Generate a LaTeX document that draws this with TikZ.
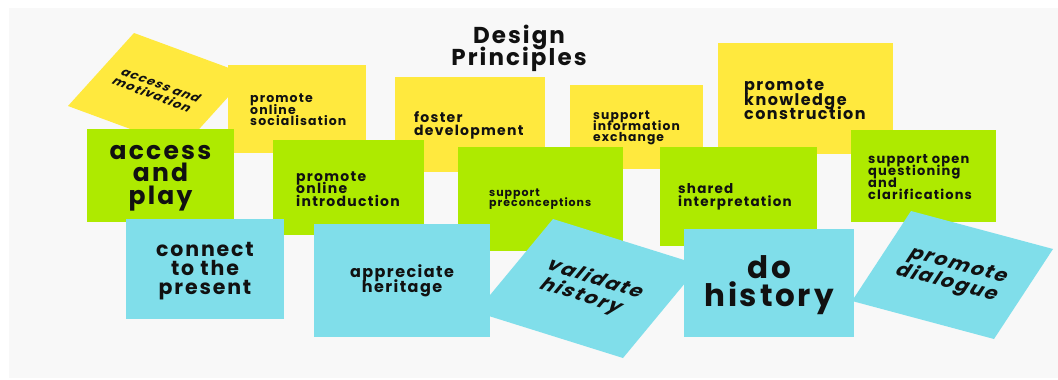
\documentclass[tikz,border=0pt]{standalone}
\usepackage{fontspec}
\setmainfont{Poppins}[LetterSpace=9]
\definecolor{bgc}{HTML}{F8F8F8}
\definecolor{ynote}{HTML}{FFE93E}
\definecolor{gnote}{HTML}{AEEA00}
\definecolor{bnote}{HTML}{80DEEA}
\definecolor{ink}{HTML}{111111}
\newcommand{\fsz}[2]{\fontsize{#1}{#2}\selectfont\lineskiplimit=-100pt\lineskip=0pt\bfseries}
\tikzset{
  card/.style={inner sep=0pt, outer sep=0pt, anchor=north west},
  ycard/.style={card, fill=ynote},
  gcard/.style={card, fill=gnote},
  bcard/.style={card, fill=bnote},
  ltext/.style={anchor=west, align=left, inner sep=0pt, text=ink},
  ctext/.style={anchor=center, align=center, inner sep=0pt, text=ink},
}
\newcommand{\cardat}[6]{% style, name, x1, y1, x2, y2
  \node[#1, minimum width={(#5-#3)*1pt}, minimum height={(#6-#4)*1pt}] (#2) at (#3,#4) {};}
\begin{document}
\begin{tikzpicture}[x=1pt, y=-1pt]
\useasboundingbox (0,0) rectangle (1058,380);
\fill[white] (0,0) rectangle (1058,380);
\fill[bgc] (9,8) rectangle (1058,378);

% title
\node[ctext, font={\fsz{23}{22}}] (title) at (519,48) {Design\\Principles};

% ---------- yellow ----------
\coordinate (y1t) at (134,33);
\coordinate (y1r) at (248,75);
\coordinate (y1b) at (182,148);
\coordinate (y1l) at (68,106);
\fill[ynote] (y1t) -- (y1r) -- (y1b) -- (y1l) -- cycle;
\begin{scope}[shift={(157,90)}, cm={0.938,-0.346,0.671,0.742,(0,0)}]
  \node[ctext, align=left, transform shape, font={\fsz{12.5}{13}}] (y1txt) at (0,0) {access and\\motivation};
\end{scope}

\cardat{ycard}{y2}{228}{65}{366}{153}
\node[ltext, font={\fsz{12.5}{11.5}}] (y2txt) at (250,110) {promote\\online\\socialisation};

\cardat{ycard}{y3}{395}{77}{545}{172}
\node[ltext, font={\fsz{14}{13}}] (y3txt) at (414,125.5) {foster\\development};

\cardat{ycard}{y4}{570}{85}{703}{169}
\node[ltext, font={\fsz{12.3}{11}}] (y4txt) at (593,128) {support\\information\\exchange};

\cardat{ycard}{y5}{718}{43}{893}{154}
\node[ltext, font={\fsz{16}{14.5}}] (y5txt) at (744,100) {promote\\knowledge\\construction};

% ---------- green ----------
\cardat{gcard}{g1}{87}{129}{234}{222}
\node[ctext, font={\fsz{25}{22.5}}] (g1txt) at (160.5,178) {access\\and\\play};

\cardat{gcard}{g2}{273}{140}{424}{235}
\node[ltext, font={\fsz{14}{12.5}}] (g2txt) at (296,189) {promote\\online\\introduction};

\cardat{gcard}{g3}{458}{147}{623}{251}
\node[ltext, font={\fsz{11}{10.5}}] (g3txt) at (489,199) {support\\preconceptions};

\cardat{gcard}{g4}{660}{147}{817}{246}
\node[ltext, font={\fsz{13.5}{13.5}}] (g4txt) at (678,197) {shared\\interpretation};

\cardat{gcard}{g5}{851}{130}{996}{222}
\node[ltext, font={\fsz{13}{12}}] (g5txt) at (868,177) {support open\\questioning\\and\\clarifications};

% ---------- blue ----------
\coordinate (b3t) at (553,219);
\coordinate (b3r) at (700,265);
\coordinate (b3b) at (623,358);
\coordinate (b3l) at (476,312);
\fill[bnote] (b3t) -- (b3r) -- (b3b) -- (b3l) -- cycle;
\begin{scope}[shift={(588,288)}, cm={0.954,-0.299,0.638,0.770,(0,0)}]
  \node[ctext, transform shape, font={\fsz{20}{22}}] (b3txt) at (0,0) {validate\\history};
\end{scope}

\coordinate (b5t) at (911,211);
\coordinate (b5r) at (1053,249);
\coordinate (b5b) at (994,339);
\coordinate (b5l) at (852,301);
\fill[bnote] (b5t) -- (b5r) -- (b5b) -- (b5l) -- cycle;
\begin{scope}[shift={(952,275)}, cm={0.967,-0.254,0.548,0.836,(0,0)}]
  \node[ctext, transform shape, font={\fsz{20}{21}}] (b5txt) at (0,0) {promote\\dialogue};
\end{scope}

\cardat{bcard}{b1}{126}{219}{284}{319}
\node[ctext, font={\fsz{20.5}{18.7}}] (b1txt) at (205,271) {connect\\to the\\present};

\cardat{bcard}{b2}{314}{224}{490}{337}
\node[ctext, font={\fsz{16}{15}}] (b2txt) at (402,281) {appreciate\\heritage};

\cardat{bcard}{b4}{684}{229}{854}{337}
\node[ctext, font={\fsz{31}{28}}] (b4txt) at (769,285) {do\\history};
\end{tikzpicture}
\end{document}
